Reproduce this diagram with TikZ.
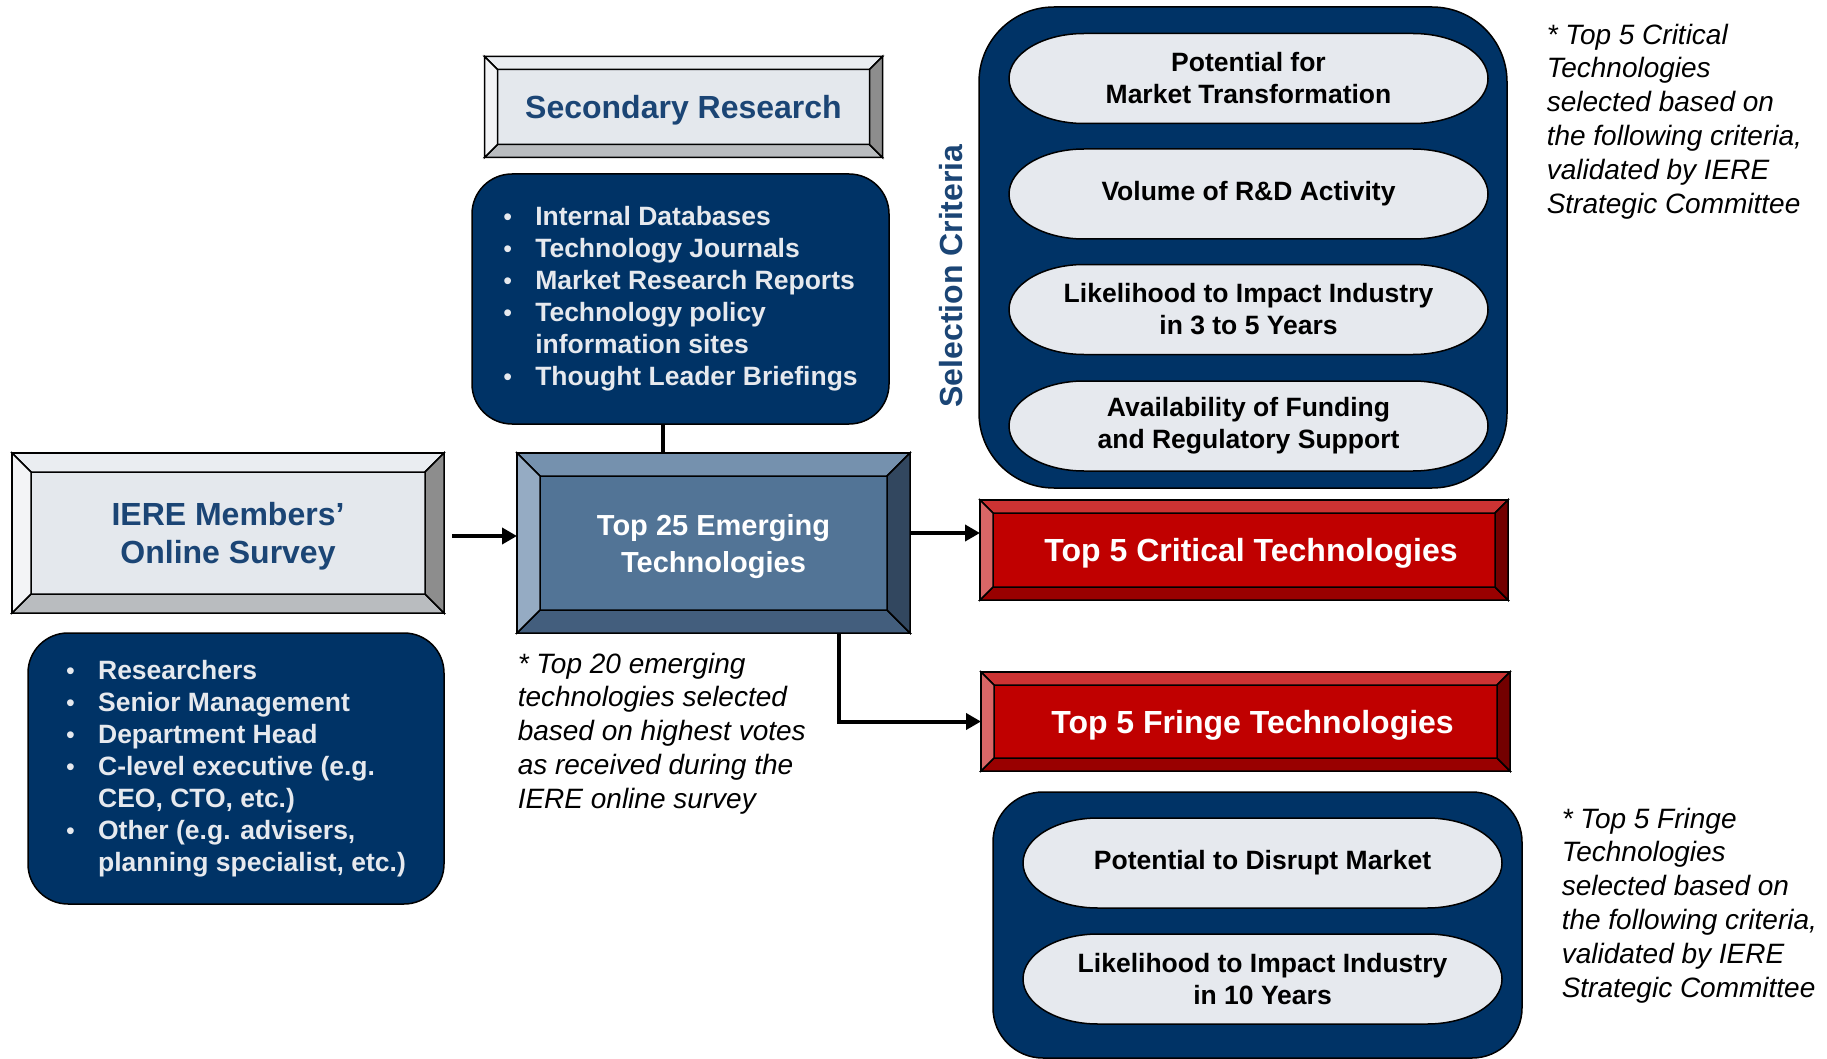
\documentclass[tikz,border=0pt]{standalone}
\usepackage{fontspec}
\setmainfont{Liberation Sans}
\usetikzlibrary{arrows.meta}
\definecolor{navy}{RGB}{0,51,102}
\definecolor{pale}{RGB}{230,233,238}
\definecolor{headtext}{RGB}{27,69,117}
\definecolor{greyface}{RGB}{228,232,237}
\definecolor{greytop}{RGB}{234,237,241}
\definecolor{greyleft}{RGB}{243,244,246}
\definecolor{greyright}{RGB}{141,141,141}
\definecolor{greybot}{RGB}{185,188,191}
\definecolor{blueface}{RGB}{82,116,150}
\definecolor{bluetop}{RGB}{117,145,174}
\definecolor{blueleft}{RGB}{149,171,195}
\definecolor{blueright}{RGB}{50,71,95}
\definecolor{bluebot}{RGB}{67,94,125}
\definecolor{redface}{RGB}{192,0,0}
\definecolor{redtop}{RGB}{204,51,51}
\definecolor{redleft}{RGB}{217,102,102}
\definecolor{redright}{RGB}{115,0,0}
\definecolor{redbot}{RGB}{153,0,0}
\newcommand{\bevel}[3]{%
\filldraw[fill=#3top] (#1.north west) -- (#1.north east) -- ([shift={(-#2,#2)}]#1.north east) -- ([shift={(#2,#2)}]#1.north west) -- cycle;
\filldraw[fill=#3bot] (#1.south west) -- ([shift={(#2,-#2)}]#1.south west) -- ([shift={(-#2,-#2)}]#1.south east) -- (#1.south east) -- cycle;
\filldraw[fill=#3left] (#1.north west) -- ([shift={(#2,#2)}]#1.north west) -- ([shift={(#2,-#2)}]#1.south west) -- (#1.south west) -- cycle;
\filldraw[fill=#3right] (#1.north east) -- ([shift={(-#2,#2)}]#1.north east) -- ([shift={(-#2,-#2)}]#1.south east) -- (#1.south east) -- cycle;}
\newcommand{\pill}[4]{%
\filldraw[fill=pale] (#2-164.5,#3-45) arc[start angle=270,end angle=90,x radius=75,y radius=45] -- (#2+164.5,#3+45) arc[start angle=90,end angle=-90,x radius=75,y radius=45] -- cycle;
\node[pill] (#1) at (#2,#3) {#4};}
\newcommand{\li}{\makebox[32pt][l]{\mdseries\fontsize{25}{25}\selectfont\textbullet}}
\newcommand{\nli}{\hspace*{32pt}}
\begin{document}
\begin{tikzpicture}[x=1pt,y=-1pt,line width=1.5pt,
flat/.style={rectangle,draw,outer sep=0pt,inner sep=0pt,align=center,text depth=0pt,font=\bfseries\fontsize{32}{38.5}\selectfont},
grey box/.style={flat,fill=greyface,text=headtext},
blue box/.style={flat,fill=blueface,text=white,font=\bfseries\fontsize{29}{37}\selectfont},
red box/.style={flat,fill=redface,text=white},
list box/.style={draw,fill=navy,rounded corners=40pt,text=pale,align=left,inner sep=0pt,font=\bfseries\fontsize{26.5}{32}\selectfont},
frame/.style={draw,fill=navy,inner sep=0pt},
pill/.style={inner sep=0pt,align=center,font=\bfseries\fontsize{26.5}{32}\selectfont},
note/.style={anchor=north west,align=left,inner sep=0pt,font=\itshape\fontsize{28}{33.8}\selectfont},
link/.style={line width=4pt,-{Triangle[length=15pt,width=16pt]}}]
\useasboundingbox (0,0) rectangle (1827,1059);

\node[grey box,minimum width=398pt,minimum height=101pt] (secres) at (683.5,107) {Secondary Research};
\bevel{secres}{13}{grey}
\node[list box,minimum width=417pt,minimum height=250pt] (seclist) at (680.5,299) {\li Internal Databases\\ \li Technology Journals\\ \li Market Research Reports\\ \li Technology policy\\ \nli information sites\\ \li Thought Leader Briefings};

\node[grey box,minimum width=432pt,minimum height=160pt] (survey) at (228,533) {IERE Members’\\ Online Survey};
\bevel{survey}{19}{grey}
\node[list box,minimum width=416pt,minimum height=271pt] (survlist) at (236,768.5) {\li Researchers\\ \li Senior Management\\ \li Department Head\\ \li C-level executive (e.g.\\ \nli CEO, CTO, etc.)\\ \li Other (e.g. advisers,\\ \nli planning specialist, etc.)};

\node[blue box,minimum width=393pt,minimum height=180pt] (top25) at (713.5,543) {Top 25 Emerging\\ Technologies};
\bevel{top25}{23}{blue}

\node[red box,minimum width=528pt,minimum height=100pt] (crit) at (1244,550) {\hspace*{14pt}Top 5 Critical Technologies};
\bevel{crit}{13}{red}
\node[red box,minimum width=529pt,minimum height=99pt] (fringe) at (1245.5,721.5) {\hspace*{14pt}Top 5 Fringe Technologies};
\bevel{fringe}{13}{red}

\node[frame,rounded corners=75pt,minimum width=528pt,minimum height=481pt] (critframe) at (1243,247.5) {};
\pill{c1}{1248.5}{78.5}{Potential for\\ Market Transformation}
\pill{c2}{1248.5}{194}{Volume of R\&D Activity}
\pill{c3}{1248.5}{309.5}{Likelihood to Impact Industry\\ in 3 to 5 Years}
\pill{c4}{1248.5}{426}{Availability of Funding\\ and Regulatory Support}
\node[rotate=90,text=headtext,font=\bfseries\fontsize{32}{38}\selectfont] (selcrit) at (951,276) {Selection Criteria};

\node[frame,rounded corners=50pt,minimum width=529pt,minimum height=266pt] (fringeframe) at (1257.5,925) {};
\pill{f1}{1262.5}{863}{Potential to Disrupt Market}
\pill{f2}{1262.5}{979}{Likelihood to Impact Industry\\ in 10 Years}

\node[note] (critnote) at (1546,23) {* Top 5 Critical\\ Technologies\\ selected based on\\ the following criteria,\\ validated by IERE\\ Strategic Committee};
\node[note] (fringenote) at (1561,807) {* Top 5 Fringe\\ Technologies\\ selected based on\\ the following criteria,\\ validated by IERE\\ Strategic Committee};
\node[note] (topnote) at (517,652) {* Top 20 emerging\\ technologies selected\\ based on highest votes\\ as received during the\\ IERE online survey};

\draw[line width=4pt] ([xshift=-17.5pt]seclist.south) -- ([xshift=-17.5pt]seclist.south |- top25.north);
\draw[link,shorten <=8pt] ([yshift=-3pt]survey.east) -- ([yshift=-3pt]survey.east -| top25.west);
\draw[link] ([yshift=10pt]top25.east) -- ([yshift=10pt]top25.east -| crit.west);
\draw[link] ([xshift=125pt]top25.south) |- (fringe.west);
\end{tikzpicture}
\end{document}
